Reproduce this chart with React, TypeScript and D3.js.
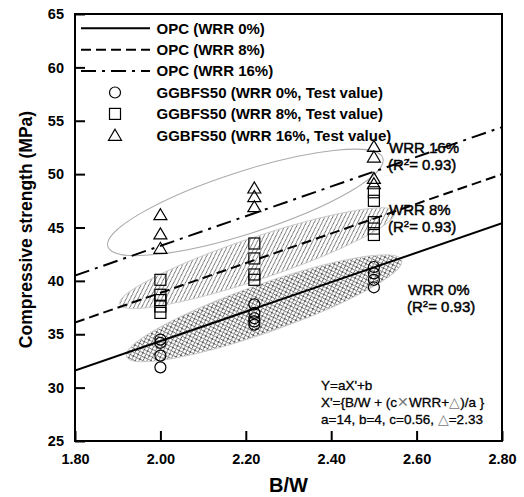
import React, { useEffect, useRef } from "react";
import * as d3 from "d3";

// B/W levels tested
const bwLevels = [2.0, 2.22, 2.5];

// GGBFS50 test values (MPa), one list per B/W level
const wrr0Values = [
  [34.5, 34.2, 33.0, 31.9],
  [37.8, 37.0, 36.5, 36.2, 35.9],
  [41.3, 40.7, 40.1, 39.4],
];
const wrr8Values = [
  [40.1, 38.7, 38.2, 37.6, 37.0],
  [43.5, 42.1, 40.6, 40.1],
  [48.3, 47.5, 45.5, 44.9, 44.3],
];
const wrr16Values = [
  [46.2, 44.4, 43.05],
  [48.7, 47.9, 46.95],
  [52.6, 51.6, 49.6, 49.1],
];

// OPC model lines: strength at B/W = 1.80 and 2.80
const lineX = [1.8, 2.8];
const opc0 = [31.6, 45.4];
const opc8 = [36.1, 50.0];
const opc16 = [40.5, 54.4];

// shaded regions: end points (B/W, MPa)
const region16 = [[1.877, 43.2], [2.521, 51.5]];
const region8 = [[1.905, 37.8], [2.549, 46.45]];
const region0 = [[1.921, 32.9], [2.565, 41.96]];

const xTicks = [1.8, 2.0, 2.2, 2.4, 2.6, 2.8];
const yTicks = [25, 30, 35, 40, 45, 50, 55, 60, 65];

const legendLabels = [
  "OPC (WRR 0%)",
  "OPC (WRR 8%)",
  "OPC (WRR 16%)",
  "GGBFS50 (WRR 0%, Test value)",
  "GGBFS50 (WRR 8%, Test value)",
  "GGBFS50 (WRR 16%, Test value)",
];

const FONT = "'Liberation Sans', Arial, sans-serif";

export default function App() {
  const ref = useRef<SVGSVGElement>(null);

  useEffect(() => {
    const svg = d3.select(ref.current);
    svg.selectAll("*").remove();

    const left = 75, right = 502, top = 14, bottom = 441;
    const x = d3.scaleLinear().domain([1.8, 2.8]).range([left, right]);
    const y = d3.scaleLinear().domain([25, 65]).range([bottom, top]);

    const defs = svg.append("defs");
    defs.append("clipPath").attr("id", "plotclip")
      .append("rect").attr("x", left).attr("y", top)
      .attr("width", right - left).attr("height", bottom - top);

    // hatch tiles drawn on the pixel grid (no rotation -> no moire)
    const hatch = defs.append("pattern").attr("id", "hatch")
      .attr("patternUnits", "userSpaceOnUse")
      .attr("width", 5).attr("height", 5);
    hatch.append("path").attr("d", "M-1,1L1,-1M0,5L5,0M4,6L6,4")
      .attr("stroke", "#333").attr("stroke-width", 0.8);

    const cross = defs.append("pattern").attr("id", "cross")
      .attr("patternUnits", "userSpaceOnUse")
      .attr("width", 5).attr("height", 5);
    cross.append("path").attr("d", "M-1,1L1,-1M0,5L5,0M4,6L6,4M-1,4L1,6M0,0L5,5M4,-1L6,1")
      .attr("stroke", "#333").attr("stroke-width", 0.8);

    const g = svg.append("g").attr("clip-path", "url(#plotclip)");

    // regions
    const drawRegion = (ends: number[][], b: number, fill: string, stroke: string) => {
      const x1 = x(ends[0][0]), y1 = y(ends[0][1]);
      const x2 = x(ends[1][0]), y2 = y(ends[1][1]);
      const a = Math.hypot(x2 - x1, y2 - y1) / 2;
      const ang = (Math.atan2(y2 - y1, x2 - x1) * 180) / Math.PI;
      g.append("ellipse")
        .attr("cx", (x1 + x2) / 2).attr("cy", (y1 + y2) / 2)
        .attr("rx", a).attr("ry", b)
        .attr("transform", `rotate(${ang} ${(x1 + x2) / 2} ${(y1 + y2) / 2})`)
        .attr("fill", fill).attr("stroke", stroke).attr("stroke-width", 1);
    };
    drawRegion(region16, 31, "none", "#aaa");
    drawRegion(region8, 21, "url(#hatch)", "#ccc");
    drawRegion(region0, 24, "url(#cross)", "#ccc");

    // OPC lines
    const dashes = [null, "10,5", "15,6,3,6"];
    [opc0, opc8, opc16].forEach((vals, i) => {
      g.append("line")
        .attr("x1", x(lineX[0])).attr("y1", y(vals[0]))
        .attr("x2", x(lineX[1])).attr("y2", y(vals[1]))
        .attr("stroke", "#000").attr("stroke-width", 2)
        .attr("stroke-dasharray", dashes[i]);
    });

    // markers
    const drawMarker = (sel: any, kind: number, cx: number, cy: number) => {
      if (kind === 0) {
        sel.append("circle").attr("cx", cx).attr("cy", cy).attr("r", 5.5)
          .attr("fill", "none").attr("stroke", "#000").attr("stroke-width", 1.2);
      } else if (kind === 1) {
        sel.append("rect").attr("x", cx - 5.5).attr("y", cy - 5.5)
          .attr("width", 11).attr("height", 11)
          .attr("fill", "none").attr("stroke", "#000").attr("stroke-width", 1.2);
      } else {
        sel.append("path")
          .attr("d", `M${cx},${cy - 6}L${cx + 6.5},${cy + 5}L${cx - 6.5},${cy + 5}Z`)
          .attr("fill", "none").attr("stroke", "#000").attr("stroke-width", 1.2);
      }
    };
    [wrr0Values, wrr8Values, wrr16Values].forEach((series, k) => {
      series.forEach((vals, i) => {
        vals.forEach((v) => drawMarker(svg, k, x(bwLevels[i]), y(v)));
      });
    });

    // frame
    svg.append("rect").attr("x", left).attr("y", top)
      .attr("width", right - left).attr("height", bottom - top)
      .attr("fill", "none").attr("stroke", "#000").attr("stroke-width", 2);

    // axes (ticks pointing inwards)
    const xAxis = svg.append("g").attr("transform", `translate(0,${bottom})`)
      .call(d3.axisBottom(x).tickValues(xTicks).tickSizeInner(-10).tickSizeOuter(0)
        .tickPadding(12).tickFormat(d3.format(".2f")));
    const yAxis = svg.append("g").attr("transform", `translate(${left},0)`)
      .call(d3.axisLeft(y).tickValues(yTicks).tickSizeInner(-10).tickSizeOuter(0)
        .tickPadding(12).tickFormat(d3.format("d")));
    [xAxis, yAxis].forEach((ax) => {
      ax.select(".domain").remove();
      ax.selectAll("line").attr("stroke", "#000").attr("stroke-width", 2);
      ax.selectAll("text").attr("font-family", FONT).attr("font-size", 14.5)
        .attr("font-weight", "bold").attr("fill", "#000");
    });
    yAxis.selectAll("text").attr("x", -11);
    xAxis.selectAll("text").attr("y", 13);

    // axis titles
    svg.append("text").attr("x", (left + right) / 2).attr("y", 492)
      .attr("text-anchor", "middle").attr("font-family", FONT)
      .attr("font-size", 20).attr("font-weight", "bold").text("B/W");
    svg.append("text").attr("transform", `translate(32,${(top + bottom) / 2 + 2}) rotate(-90)`)
      .attr("text-anchor", "middle").attr("font-family", FONT)
      .attr("font-size", 17.5).attr("font-weight", "bold")
      .text("Compressive strength (MPa)");

    // legend
    const leg = svg.append("g");
    legendLabels.forEach((label, i) => {
      const ry = 28.3 + i * 21.4;
      if (i < 3) {
        leg.append("line").attr("x1", 81).attr("x2", 150).attr("y1", ry).attr("y2", ry)
          .attr("stroke", "#000").attr("stroke-width", 2)
          .attr("stroke-dasharray", dashes[i]);
      } else {
        drawMarker(leg, i - 3, 115, ry);
      }
      leg.append("text").attr("x", 156.5).attr("y", ry + 5.3)
        .attr("font-family", FONT).attr("font-size", 15).attr("font-weight", "bold")
        .text(label);
    });

    // annotations
    const notes = [
      { t: "WRR 16%", x: 389, y: 153 },
      { t: "R2", x: 388, y: 170 },
      { t: "WRR 8%", x: 389, y: 215 },
      { t: "R2", x: 388, y: 232 },
      { t: "WRR 0%", x: 408, y: 295 },
      { t: "R2", x: 407, y: 312 },
    ];
    notes.forEach((n) => {
      const t = svg.append("text").attr("x", n.x).attr("y", n.y)
        .attr("font-family", FONT).attr("font-size", 15).attr("fill", "#000")
        .attr("stroke", "#000").attr("stroke-width", 0.45);
      if (n.t === "R2") {
        t.append("tspan").text("(R");
        t.append("tspan").attr("font-size", 9.5).attr("dy", -5.5).text("2");
        t.append("tspan").attr("dy", 5.5).text("= 0.93)");
      } else {
        t.text(n.t);
      }
    });

    // formula
    const f = svg.append("g").attr("font-family", FONT).attr("font-size", 13.5)
      .attr("fill", "#000").attr("stroke", "#000").attr("stroke-width", 0.3);
    f.append("text").attr("x", 321).attr("y", 390).text("Y=aX'+b");
    const l2 = f.append("text").attr("x", 321).attr("y", 407);
    l2.append("tspan").text("X'={B/W + (c");
    l2.append("tspan").attr("fill", "#777").attr("stroke", "none").text("\u2715");
    l2.append("tspan").text("WRR+");
    l2.append("tspan").attr("fill", "#777").attr("stroke", "none").text("\u25B3");
    l2.append("tspan").text(")/a }");
    const l3 = f.append("text").attr("x", 321).attr("y", 424);
    l3.append("tspan").text("a=14, b=4, c=0.56, ");
    l3.append("tspan").attr("fill", "#777").attr("stroke", "none").text("\u25B3");
    l3.append("tspan").text("=2.33");
  }, []);

  return (
    <svg
      ref={ref}
      width={524}
      height={497}
      style={{ position: "absolute", left: 0, top: 0, background: "#fff" }}
    />
  );
}
